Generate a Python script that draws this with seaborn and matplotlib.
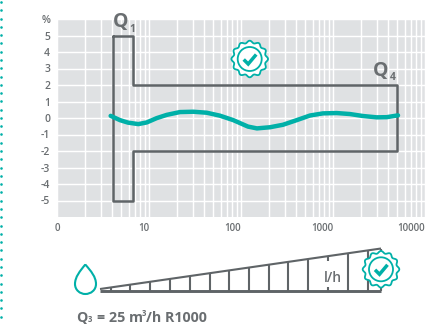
import numpy as np
import matplotlib
matplotlib.use("Agg")
import matplotlib.pyplot as plt
from matplotlib.path import Path
from matplotlib.patches import PathPatch, Polygon, Circle
import seaborn as sns

flow_lh = [3.83, 4.84, 5.91, 7.65, 9.44, 12.1, 15.6, 21.7, 30.3, 42.4, 59.1, 82.5, 119, 149,
           207, 286, 403, 562, 778, 1097, 1530, 2119, 2985, 3837, 5090]
error_pct = [0.13, -0.13, -0.28, -0.37, -0.27, -0.01, 0.19, 0.36, 0.38, 0.32, 0.14, -0.13, -0.52, -0.63,
             -0.56, -0.41, -0.13, 0.15, 0.28, 0.30, 0.24, 0.12, 0.04, 0.05, 0.16]
limit_x = [4.1, 6.65, 6.65, 5000, 5000, 6.65, 6.65, 4.1, 4.1]
limit_y = [5, 5, 2, 2, -2, -2, -5, -5, 5]
x_ticks = [1, 10, 100, 1000, 10000]
x_labels = ["0", "10", "100", "1000", "10000"]
y_ticks = [-5, -4, -3, -2, -1, 0, 1, 2, 3, 4, 5, 6]
y_labels = ["-5", "-4", "-3", "-2", "-1", "0", "1", "2", "3", "4", "5", "%"]
wedge_bars = [110.7, 130, 150, 170, 190, 210, 229, 249, 268.7, 288.3, 308, 347.7, 367.7, 380.7]

TEAL = "#00b0a8"
DARK = "#5f6467"
TEXT = "#6a6e71"
W, H = 443, 324

sns.set_theme(style="white")
plt.rcParams["font.family"] = ["Open Sans", "DejaVu Sans"]
fig = plt.figure(figsize=(W / 100, H / 100), dpi=100)
ax = fig.add_axes([57 / W, 1 - 217 / H, 368 / W, 198 / H])
ax.set_facecolor("#dfe1e3")
ax.set_xscale("log")
ax.set_xlim(1, 10000)
ax.set_ylim(-6, 6)
sns.despine(ax=ax, left=True, bottom=True, top=True, right=True)
ax.set_xticks(x_ticks, x_labels)
ax.set_xticks([m * 10 ** d for d in range(4) for m in range(2, 10)], minor=True)
ax.set_yticks(y_ticks, y_labels)
ax.grid(True, which="both", color="white", lw=1.05)
ax.set_axisbelow(True)
ax.tick_params(which="both", length=0)
ax.tick_params(axis="x", which="major", pad=4, labelsize=7, labelcolor=TEXT)
ax.tick_params(axis="y", pad=5, labelsize=7.5, labelcolor=TEXT)
ax.tick_params(axis="x", which="minor", labelbottom=False)
for i, t in enumerate(ax.get_xticklabels()):
    t.set_ha("center" if i == 0 else "right")
    t.set_fontweight("semibold")
for t in ax.get_yticklabels():
    t.set_fontweight("semibold")

sns.lineplot(x=limit_x, y=limit_y, sort=False, estimator=None, color=DARK, lw=1.8, ax=ax)
sns.lineplot(x=flow_lh, y=error_pct, sort=False, estimator=None, color=TEAL, lw=3.2, ax=ax)
ax.set_xlabel("")
ax.set_ylabel("")

# overlay in pixel coordinates for the decorations
ov = fig.add_axes([0, 0, 1, 1], facecolor="none")
ov.set_xlim(0, W)
ov.set_ylim(H, 0)
ov.axis("off")

ov.scatter([1.5] * 40, 2 + 8.28 * np.arange(40), s=3.5, color=TEAL, marker="o", lw=0, clip_on=False)


def badge(cx, cy):
    th = np.linspace(0, 2 * np.pi, 241)
    r = 17.2 + 1.1 * np.cos(12 * th)
    ov.add_patch(Polygon(np.c_[cx + r * np.cos(th), cy + r * np.sin(th)], closed=True,
                         fc="white", ec=TEAL, lw=1.3, zorder=6))
    ov.add_patch(Circle((cx, cy), 12, fc="white", ec=TEAL, lw=1.3, zorder=7))
    ov.plot([cx - 6, cx - 1.5, cx + 6.5], [cy + 0.5, cy + 5, cy - 4.5], color=TEAL, lw=2.5,
            solid_joinstyle="miter", solid_capstyle="butt", zorder=8)


badge(249.7, 59)

# Q labels
for x, y, s, fs in [(120.5, 22, "Q", 14), (132, 29, "1", 7.5), (381, 71, "Q", 14), (393, 77, "4", 7.5)]:
    ov.text(x, y, s, fontsize=fs, color=TEXT, fontweight="bold", ha="center", va="center")

# drop
drop = Path([(85.3, 264.5), (80, 271), (75, 277), (75, 284), (75, 290), (80, 294), (85.3, 294),
             (91, 294), (96, 290), (96, 284), (96, 277), (91, 271), (85.3, 264.5)],
            [Path.MOVETO] + [Path.CURVE4] * 12)
ov.add_patch(PathPatch(drop, fc="none", ec=TEAL, lw=1.5))

# wedge
ov.plot([100, 381], [291, 291], color=DARK, lw=2.1, solid_capstyle="butt")
ov.plot([100, 381], [289, 248.5], color=DARK, lw=1.5, solid_capstyle="butt")
for bx in wedge_bars:
    ov.plot([bx, bx], [291, 289 - 40.5 * (bx - 100) / 281], color=DARK, lw=1.5, solid_capstyle="butt")
ov.plot([328, 328], [256, 261], color=DARK, lw=1.5, solid_capstyle="butt")
ov.plot([328, 328], [287, 291], color=DARK, lw=1.5, solid_capstyle="butt")
ov.text(332.5, 278, "l/h", fontsize=10, color=TEXT, fontweight="semibold", ha="center", va="center")
badge(381, 269.3)

# bottom caption, with real small figures for the sub- and superscript
for x, y, s, fs in [(76, 321.5, "Q", 10.3), (87.5, 322.5, "3", 5.5), (97, 321.5, "= 25 m", 10.3),
                    (141.5, 316.5, "3", 5.5), (146, 321.5, "/h R1000", 10.3)]:
    ov.text(x, y, s, fontsize=fs, color=TEXT, fontweight="bold", ha="left", va="baseline")

fig.savefig("out.png", dpi=100)
